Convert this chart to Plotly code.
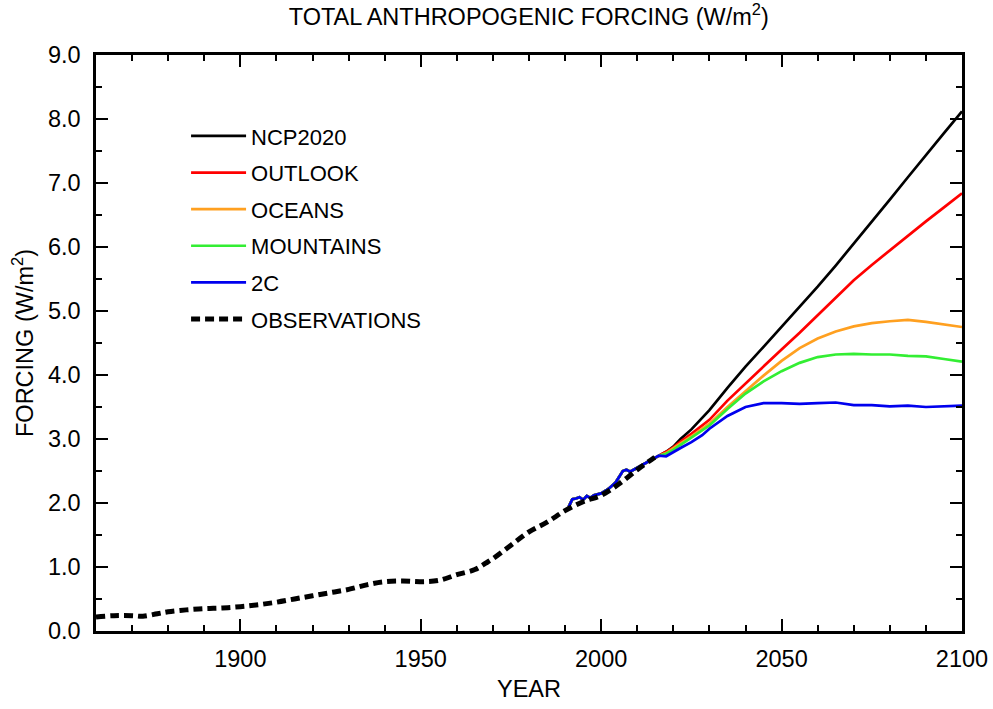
import plotly.graph_objects as go

# Observations
obs_years = [1860, 1865, 1870, 1873, 1877, 1880, 1885, 1890, 1895, 1900, 1905, 1910, 1915,
             1920, 1925, 1930, 1935, 1940, 1945, 1950, 1955, 1960, 1965, 1968, 1970, 1975,
             1980, 1985, 1990, 1995, 2000, 2005, 2010, 2014, 2016]
obs_vals = [0.22, 0.24, 0.24, 0.23, 0.27, 0.30, 0.33, 0.35, 0.36, 0.38, 0.41, 0.45, 0.50,
            0.55, 0.60, 0.65, 0.72, 0.77, 0.78, 0.77, 0.79, 0.88, 0.96, 1.06, 1.13, 1.34,
            1.55, 1.70, 1.88, 2.02, 2.12, 2.30, 2.52, 2.68, 2.76]

# Shared scenario history (1991-2016)
hist_years = [1991, 1992, 1993, 1994, 1995, 1996, 1997, 1998, 2000, 2002, 2004, 2005, 2006,
              2007, 2008, 2009, 2011, 2013, 2015, 2016]
hist_vals = [1.94, 2.06, 2.07, 2.09, 2.05, 2.11, 2.08, 2.12, 2.15, 2.22, 2.32, 2.42, 2.50,
             2.52, 2.49, 2.52, 2.58, 2.65, 2.71, 2.74]

# Scenario projections
proj_years = [2018, 2020, 2022, 2025, 2028, 2030, 2035, 2040, 2045, 2050, 2055, 2060, 2065,
              2070, 2075, 2080, 2085, 2090, 2095, 2100]
ncp2020 = [2.80, 2.88, 3.00, 3.15, 3.32, 3.45, 3.80, 4.13, 4.44, 4.75, 5.06, 5.38, 5.71,
           6.05, 6.40, 6.74, 7.09, 7.44, 7.78, 8.12]
outlook = [2.80, 2.87, 2.96, 3.08, 3.22, 3.30, 3.60, 3.87, 4.13, 4.40, 4.66, 4.93, 5.21,
           5.48, 5.72, 5.95, 6.18, 6.40, 6.62, 6.84]
oceans = [2.78, 2.85, 2.93, 3.04, 3.16, 3.24, 3.50, 3.75, 3.99, 4.22, 4.42, 4.57, 4.68,
          4.76, 4.81, 4.84, 4.86, 4.83, 4.79, 4.75]
mountains = [2.77, 2.83, 2.91, 3.02, 3.13, 3.21, 3.47, 3.71, 3.90, 4.06, 4.19, 4.28, 4.32,
             4.33, 4.32, 4.32, 4.30, 4.29, 4.25, 4.21]
two_c = [2.73, 2.80, 2.86, 2.95, 3.06, 3.16, 3.36, 3.50, 3.56, 3.56, 3.55, 3.56, 3.57,
         3.53, 3.53, 3.51, 3.52, 3.50, 3.51, 3.52]

scenarios = [("NCP2020", ncp2020, "#000000"),
             ("OUTLOOK", outlook, "#ff0000"),
             ("OCEANS", oceans, "#ffa020"),
             ("MOUNTAINS", mountains, "#33ee33"),
             ("2C", two_c, "#0000ee")]

FONT = "Liberation Sans, Arial, Helvetica, sans-serif"
FS = 23.5

fig = go.Figure()
for i, (name, vals, color) in enumerate(scenarios):
    fig.add_trace(go.Scatter(
        x=hist_years + proj_years, y=hist_vals + vals, mode="lines", name=name,
        legendgroup=f"g{i}", line=dict(color=color, width=2.7)))

fig.add_trace(go.Scatter(
    x=obs_years, y=obs_vals, mode="lines", name="OBSERVATIONS", legendgroup="g5",
    line=dict(color="black", width=5, dash="9px,5px", shape="spline")))

axis_common = dict(
    showline=True, linewidth=2.5, linecolor="black", mirror="allticks",
    ticks="inside", ticklen=12, tickwidth=2, tickcolor="black",
    showgrid=False, zeroline=False, automargin=False,
    tickfont=dict(family=FONT, size=FS, color="black"),
)

fig.update_xaxes(range=[1860, 2100], dtick=50, tick0=1900, ticklabelstandoff=5,
                 minor=dict(dtick=10, ticks="inside", ticklen=6, tickwidth=1.5, tickcolor="black"),
                 title=dict(text="YEAR", font=dict(family=FONT, size=FS, color="black"), standoff=10),
                 **axis_common)
fig.update_yaxes(range=[0, 9], dtick=1, tickformat=".1f", ticklabelstandoff=8,
                 minor=dict(dtick=0.5, ticks="inside", ticklen=6, tickwidth=1.5, tickcolor="black"),
                 title=dict(text="FORCING (W/m<sup>2</sup>)", font=dict(family=FONT, size=FS, color="black"), standoff=8),
                 **axis_common)

fig.update_layout(
    width=993, height=709,
    margin=dict(l=96, r=31, t=55, b=78),
    paper_bgcolor="white", plot_bgcolor="white",
    title=dict(text="TOTAL ANTHROPOGENIC FORCING (W/m<sup>2</sup>)", x=0.5325, xanchor="center",
               y=0.976, yanchor="middle", font=dict(family=FONT, size=FS, color="black")),
    legend=dict(x=0.104, y=0.8956, xanchor="left", yanchor="top", traceorder="grouped",
                tracegroupgap=5, itemwidth=55, bgcolor="rgba(0,0,0,0)",
                font=dict(family=FONT, size=22, color="black")),
    font=dict(family=FONT, color="black"),
)

fig.write_html("out.html")
